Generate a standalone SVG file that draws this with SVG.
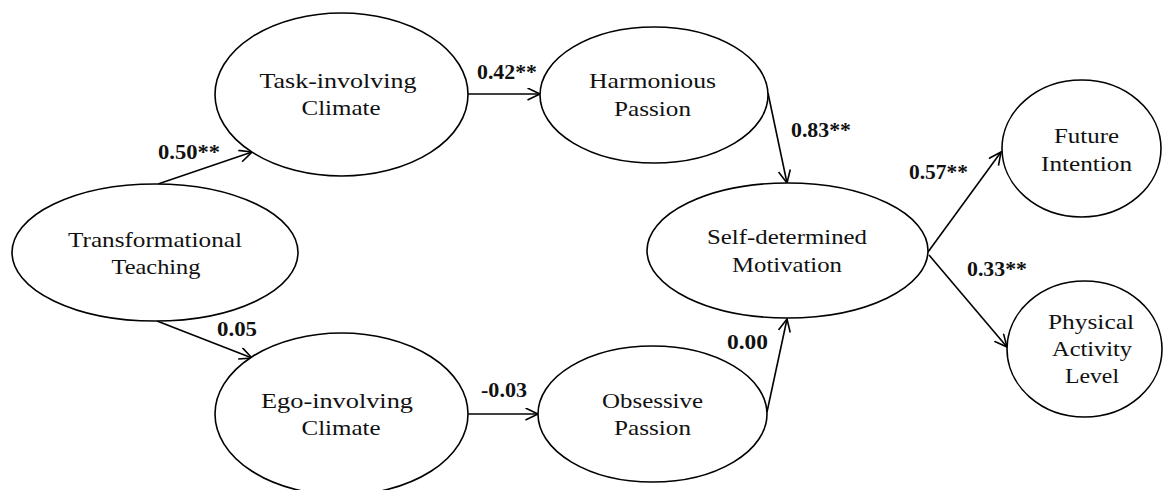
<svg xmlns="http://www.w3.org/2000/svg" width="1163" height="490" viewBox="0 0 1163 490">
<style>
.node ellipse{fill:#fff;stroke:#000;stroke-width:1.6}
.node text{font-family:"Liberation Serif","Times New Roman",serif;font-size:22px;fill:#111;text-anchor:middle}
.edge line{stroke:#000;stroke-width:1.6;marker-end:url(#arr)}
.lbl{font-family:"Liberation Serif","Times New Roman",serif;font-size:21px;font-weight:bold;fill:#111}
</style>
<defs>
<marker id="arr" markerUnits="userSpaceOnUse" markerWidth="16" markerHeight="14" refX="13" refY="6.5" orient="auto">
<path d="M0.5,0.5 L13,6.5 L0.5,12.5" fill="none" stroke="#000" stroke-width="1.6"/>
</marker>
</defs>
<rect width="1163" height="490" fill="#fff"/>
<g id="connectors" class="edge">
<line x1="158" y1="184" x2="252" y2="152"/>
<line x1="157" y1="321" x2="252" y2="358"/>
<line x1="468" y1="94" x2="540" y2="94"/>
<line x1="468" y1="414" x2="538" y2="414"/>
<line x1="768" y1="93" x2="787" y2="183"/>
<line x1="767" y1="412" x2="787" y2="319"/>
<line x1="928" y1="252" x2="1001" y2="152"/>
<line x1="929" y1="255" x2="1007" y2="347"/>
</g>
<g id="labels">
<text class="lbl" x="158" y="159" textLength="62" lengthAdjust="spacingAndGlyphs">0.50**</text>
<text class="lbl" x="477" y="79" textLength="60" lengthAdjust="spacingAndGlyphs">0.42**</text>
<text class="lbl" x="791" y="137" textLength="60" lengthAdjust="spacingAndGlyphs">0.83**</text>
<text class="lbl" x="909" y="179" textLength="59" lengthAdjust="spacingAndGlyphs">0.57**</text>
<text class="lbl" x="967" y="276" textLength="60" lengthAdjust="spacingAndGlyphs">0.33**</text>
<text class="lbl" x="217" y="336" textLength="40" lengthAdjust="spacingAndGlyphs">0.05</text>
<text class="lbl" x="481" y="397" textLength="46" lengthAdjust="spacingAndGlyphs">-0.03</text>
<text class="lbl" x="727" y="349" textLength="41" lengthAdjust="spacingAndGlyphs">0.00</text>
</g>
<g id="transformational" class="node">
<ellipse cx="155" cy="252.5" rx="143" ry="68.5"/>
<text x="155" y="247" textLength="174" lengthAdjust="spacingAndGlyphs">Transformational</text>
<text x="156" y="274" textLength="89" lengthAdjust="spacingAndGlyphs">Teaching</text>
</g>
<g id="task" class="node">
<ellipse cx="341.5" cy="94.5" rx="126.5" ry="81.5"/>
<text x="338" y="88" textLength="157" lengthAdjust="spacingAndGlyphs">Task-involving</text>
<text x="341" y="115" textLength="79" lengthAdjust="spacingAndGlyphs">Climate</text>
</g>
<g id="ego" class="node">
<ellipse cx="341.5" cy="414" rx="126.5" ry="81"/>
<text x="337" y="408" textLength="152" lengthAdjust="spacingAndGlyphs">Ego-involving</text>
<text x="341" y="435" textLength="79" lengthAdjust="spacingAndGlyphs">Climate</text>
</g>
<g id="harmonious" class="node">
<ellipse cx="654" cy="95" rx="114" ry="68"/>
<text x="652.5" y="88" textLength="127" lengthAdjust="spacingAndGlyphs">Harmonious</text>
<text x="652.5" y="116" textLength="77" lengthAdjust="spacingAndGlyphs">Passion</text>
</g>
<g id="obsessive" class="node">
<ellipse cx="652.5" cy="414" rx="114.5" ry="68"/>
<text x="652.5" y="408" textLength="101" lengthAdjust="spacingAndGlyphs">Obsessive</text>
<text x="652.5" y="435" textLength="77" lengthAdjust="spacingAndGlyphs">Passion</text>
</g>
<g id="selfdetermined" class="node">
<ellipse cx="787.5" cy="250.5" rx="140.5" ry="67.5"/>
<text x="787" y="244" textLength="160" lengthAdjust="spacingAndGlyphs">Self-determined</text>
<text x="787" y="272" textLength="110" lengthAdjust="spacingAndGlyphs">Motivation</text>
</g>
<g id="future" class="node">
<ellipse cx="1081.5" cy="148.5" rx="79.5" ry="68.5"/>
<text x="1086.5" y="143" textLength="65" lengthAdjust="spacingAndGlyphs">Future</text>
<text x="1086.5" y="171" textLength="91" lengthAdjust="spacingAndGlyphs">Intention</text>
</g>
<g id="physical" class="node">
<ellipse cx="1084.5" cy="349" rx="77.5" ry="68"/>
<text x="1091" y="329" textLength="86" lengthAdjust="spacingAndGlyphs">Physical</text>
<text x="1092" y="356" textLength="80" lengthAdjust="spacingAndGlyphs">Activity</text>
<text x="1092" y="383" textLength="54" lengthAdjust="spacingAndGlyphs">Level</text>
</g>
</svg>
